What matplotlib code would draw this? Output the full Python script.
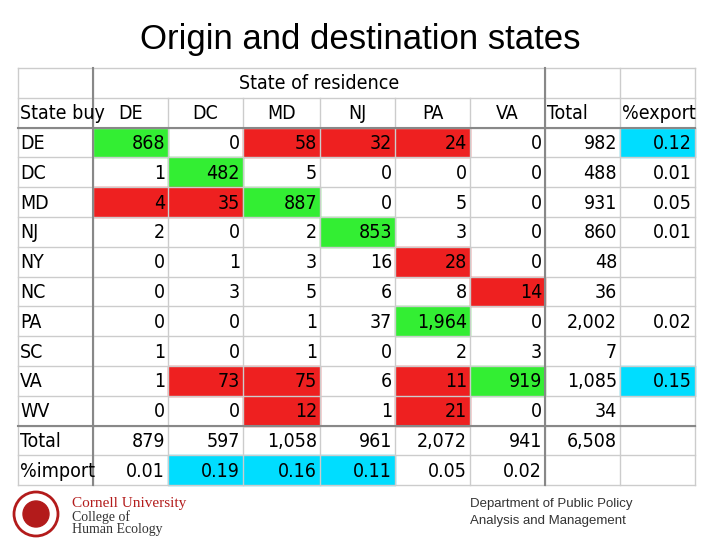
import matplotlib
matplotlib.use("Agg")
import matplotlib.pyplot as plt
from matplotlib.patches import Rectangle

cols = ["DE", "DC", "MD", "NJ", "PA", "VA"]
rows = ["DE", "DC", "MD", "NJ", "NY", "NC", "PA", "SC", "VA", "WV"]
values = [
    [868, 0, 58, 32, 24, 0],
    [1, 482, 5, 0, 0, 0],
    [4, 35, 887, 0, 5, 0],
    [2, 0, 2, 853, 3, 0],
    [0, 1, 3, 16, 28, 0],
    [0, 3, 5, 6, 8, 14],
    [0, 0, 1, 37, 1964, 0],
    [1, 0, 1, 0, 2, 3],
    [1, 73, 75, 6, 11, 919],
    [0, 0, 12, 1, 21, 0],
]
row_totals = [982, 488, 931, 860, 48, 36, 2002, 7, 1085, 34]
pct_export = ["0.12", "0.01", "0.05", "0.01", "", "", "0.02", "", "0.15", ""]
col_totals = [879, 597, 1058, 961, 2072, 941]
grand_total = 6508
pct_import = ["0.01", "0.19", "0.16", "0.11", "0.05", "0.02"]
cell_colors = {
    (0, 0): "g", (0, 2): "r", (0, 3): "r", (0, 4): "r",
    (1, 1): "g",
    (2, 0): "r", (2, 1): "r", (2, 2): "g",
    (3, 3): "g", (4, 4): "r", (5, 5): "r", (6, 4): "g",
    (8, 1): "r", (8, 2): "r", (8, 4): "r", (8, 5): "g",
    (9, 2): "r", (9, 4): "r",
}
export_cyan = [0, 8]
import_cyan = [1, 2, 3]
palette = {"g": "#33ee33", "r": "#ee2020", "c": "#00ddff"}

FONT = dict(family="DejaVu Sans", fontstretch="condensed", fontsize=14)
fig = plt.figure(figsize=(7.2, 5.4), dpi=100)
ax = fig.add_axes([0, 0, 1, 1])
ax.set_xlim(0, 720); ax.set_ylim(540, 0); ax.axis("off")

xs = [18, 93, 168, 243, 320, 395, 470, 545, 620, 695]
y0, rh = 68, 29.8
nrows = 14

def cell(r, c, text, color=None, align="right"):
    x1, x2 = xs[c], xs[c + 1]
    y1 = y0 + r * rh
    if color:
        ax.add_patch(Rectangle((x1, y1), x2 - x1, rh, color=color, zorder=1))
    if align == "right":
        tx, ha = x2 - 3, "right"
    elif align == "left":
        tx, ha = x1 + 2, "left"
    else:
        tx, ha = (x1 + x2) / 2, "center"
    t = ax.text(tx, y1 + rh / 2 + 1, text, ha=ha, va="center", color="black", zorder=3, **FONT)
    t.set_fontstretch("condensed")

ax.text((xs[1] + xs[7]) / 2, y0 + rh / 2 + 1, "State of residence", ha="center",
        va="center", zorder=3, **FONT)
cell(1, 0, "State buy", align="left")
for j, c in enumerate(cols):
    cell(1, j + 1, c, align="center")
cell(1, 7, "Total", align="left")
cell(1, 8, "%export", align="left")

for i, r in enumerate(rows):
    cell(i + 2, 0, r, align="left")
    for j in range(6):
        col = palette[cell_colors[(i, j)]] if (i, j) in cell_colors else None
        cell(i + 2, j + 1, f"{values[i][j]:,}", col)
    cell(i + 2, 7, f"{row_totals[i]:,}")
    cell(i + 2, 8, pct_export[i], palette["c"] if i in export_cyan else None)

cell(12, 0, "Total", align="left")
for j in range(6):
    cell(12, j + 1, f"{col_totals[j]:,}")
cell(12, 7, f"{grand_total:,}")
cell(13, 0, "%import", align="left")
for j in range(6):
    cell(13, j + 1, pct_import[j], palette["c"] if j in import_cyan else None)

ybot = y0 + nrows * rh
for i in range(nrows + 1):
    y = y0 + i * rh
    ax.plot([xs[0], xs[9]], [y, y], color="#cccccc", lw=1, zorder=2)
for k, x in enumerate(xs):
    ys = y0 if k in (0, 1, 7, 8, 9) else y0 + rh
    ax.plot([x, x], [ys, ybot], color="#cccccc", lw=1, zorder=2)
for y in (y0 + 2 * rh, y0 + 12 * rh):
    ax.plot([xs[0], xs[9]], [y, y], color="#888888", lw=1.5, zorder=2)
for x in (xs[1], xs[7]):
    ax.plot([x, x], [y0, ybot], color="#888888", lw=1.5, zorder=2)

ax.text(360, 40, "Origin and destination states", ha="center", va="center",
        fontsize=25, family="Liberation Sans")

ax.text(72, 504, "Cornell University", fontsize=11, family="Liberation Serif",
        color="#b31b1b", va="center")
ax.text(72, 517, "College of", fontsize=10, family="Liberation Serif", va="center", color="#333333")
ax.text(72, 530, "Human Ecology", fontsize=10, family="Liberation Serif", va="center", color="#333333")
ax.add_patch(plt.Circle((36, 514), 22, fill=False, ec="#b31b1b", lw=2))
ax.add_patch(plt.Circle((36, 514), 13, color="#b31b1b"))

ax.text(470, 504, "Department of Public Policy", fontsize=9.5, family="Liberation Sans",
        color="#333333", va="center")
ax.text(470, 521, "Analysis and Management", fontsize=9.5, family="Liberation Sans",
        color="#333333", va="center")

fig.savefig("out.png", dpi=100)
